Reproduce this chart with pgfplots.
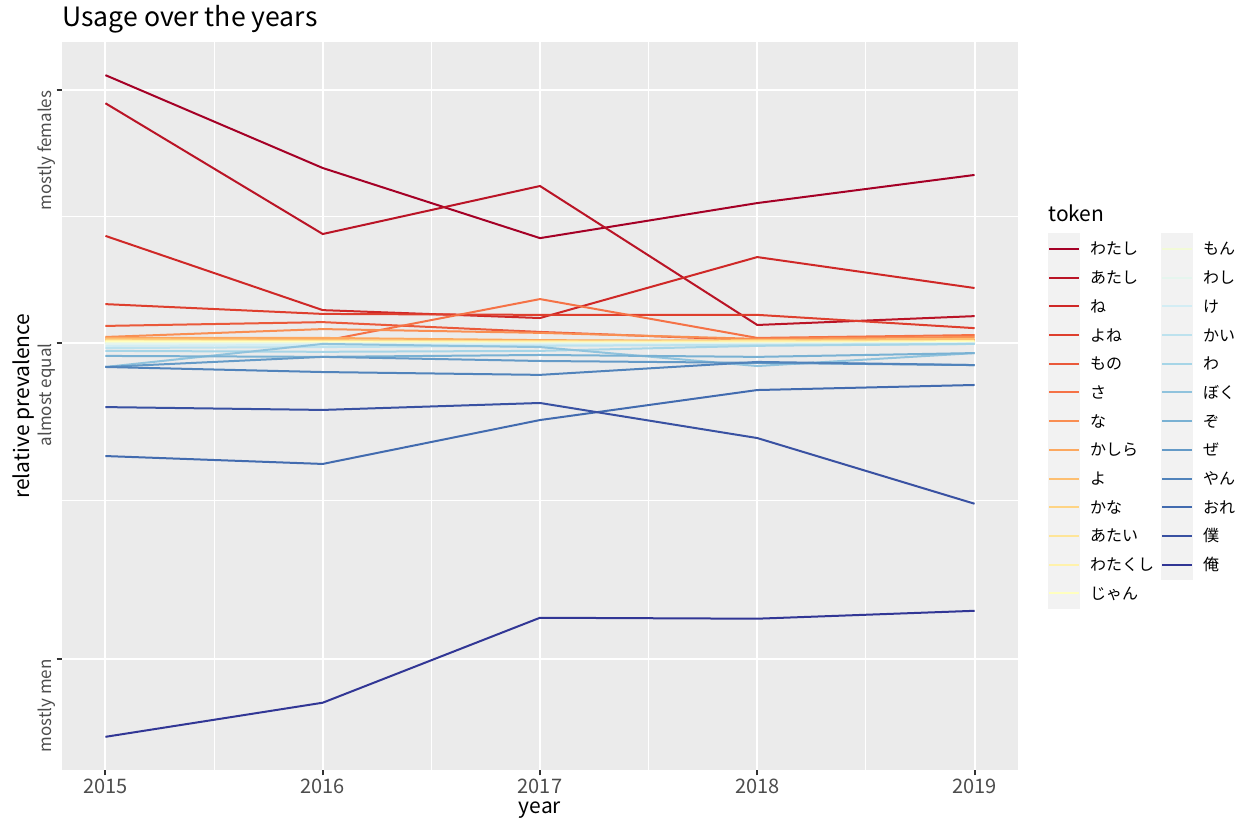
\documentclass[border=0pt]{standalone}
\usepackage{fontspec}
\setmainfont{Noto Sans CJK JP}
\usepackage{pgfplots}
\usepackage{pgfplotstable}
\pgfplotsset{compat=1.18}

% RdYlBu spread over 25 tokens
\definecolor{c1}{RGB}{165,0,38}
\definecolor{c2}{RGB}{186,20,38}
\definecolor{c3}{RGB}{207,40,39}
\definecolor{c4}{RGB}{222,63,46}
\definecolor{c5}{RGB}{234,89,58}
\definecolor{c6}{RGB}{245,114,70}
\definecolor{c7}{RGB}{249,142,82}
\definecolor{c8}{RGB}{252,168,95}
\definecolor{c9}{RGB}{253,191,113}
\definecolor{c10}{RGB}{254,212,132}
\definecolor{c11}{RGB}{254,229,152}
\definecolor{c12}{RGB}{255,242,171}
\definecolor{c13}{RGB}{255,255,191}
\definecolor{c14}{RGB}{242,250,215}
\definecolor{c15}{RGB}{229,245,238}
\definecolor{c16}{RGB}{211,237,244}
\definecolor{c17}{RGB}{189,226,238}
\definecolor{c18}{RGB}{166,213,231}
\definecolor{c19}{RGB}{144,195,221}
\definecolor{c20}{RGB}{121,177,211}
\definecolor{c21}{RGB}{100,154,199}
\definecolor{c22}{RGB}{81,131,187}
\definecolor{c23}{RGB}{66,107,175}
\definecolor{c24}{RGB}{57,81,162}
\definecolor{c25}{RGB}{49,54,149}
\definecolor{panel}{HTML}{EBEBEB}
\definecolor{keybg}{HTML}{F2F2F2}
\definecolor{tickc}{HTML}{333333}
\definecolor{labc}{HTML}{4D4D4D}

\pgfplotstableread{
year watashi atashi ne yone mono sa na kashira yo kana atai watakushi jan mon washi ke kai wa boku zo ze yan ore bokuK oreK
2015 0.848 0.759 0.339 0.123 0.054 0.009 0.019 0.016 0.013 0.009 0.006 0.006 0.003 0.000 -0.003 -0.009 -0.016 -0.025 -0.076 -0.041 -0.076 -0.076 -0.358 -0.203 -1.247
2016 0.554 0.345 0.104 0.092 0.066 0.006 0.044 0.016 0.009 0.006 0.006 0.003 0.003 0.000 -0.003 -0.006 -0.013 -0.028 -0.003 -0.044 -0.044 -0.092 -0.383 -0.212 -1.139
2017 0.332 0.497 0.079 0.089 0.035 0.139 0.032 0.009 0.006 0.006 0.003 0.003 0.000 0.000 -0.003 -0.006 -0.009 -0.025 -0.013 -0.038 -0.057 -0.101 -0.244 -0.190 -0.870
2018 0.443 0.057 0.272 0.089 0.009 0.016 0.013 0.006 0.009 0.003 0.006 0.003 0.000 0.000 -0.003 -0.006 -0.006 -0.009 -0.073 -0.044 -0.063 -0.060 -0.149 -0.301 -0.873
2019 0.532 0.085 0.174 0.047 0.009 0.025 0.019 0.009 0.013 0.006 0.003 0.006 0.003 0.000 0.000 -0.003 -0.003 -0.003 -0.032 -0.032 -0.070 -0.070 -0.133 -0.509 -0.848
}\usage

\newcommand\lb[1]{\makebox[30.5pt][l]{#1}}

\begin{document}
\begin{tikzpicture}
\path[use as bounding box] (-31pt,-26.5pt) rectangle (591pt,385pt);
\begin{axis}[
  at={(0,0)}, anchor=south west,
  scale only axis, width=478pt, height=364pt,
  xmin=2014.8, xmax=2019.2, ymin=-1.352, ymax=0.953,
  xtick={2015,2016,2017,2018,2019},
  minor xtick={2015.5,2016.5,2017.5,2018.5},
  ytick={-1,0,0.8},
  yticklabels={mostly men,almost equal,mostly females},
  minor ytick={-0.5,0.4},
  grid=both,
  major grid style={white,line width=1pt},
  minor grid style={white,line width=0.5pt},
  axis background/.style={fill=panel},
  axis line style={draw=none},
  tick align=outside, tick pos=left,
  major tick length=2.75pt, minor tick length=0pt,
  tick style={tickc,line width=1pt},
  /pgf/number format/1000 sep={},
  /pgf/number format/assume math mode=true,
  tick label style={text=labc},
  xticklabel style={anchor=base,inner sep=0pt,yshift=-8.9pt,
    font=\fontsize{10}{11}\selectfont},
  yticklabel style={xshift=-2.4pt,rotate=90,anchor=base east,inner sep=0pt,
    font=\fontsize{8.5}{10}\selectfont},
  title={Usage over the years},
  title style={at={(axis description cs:0,1)},anchor=base west,yshift=1.5pt,
    inner sep=0pt,font=\fontsize{13.3}{15}\selectfont},
  xlabel={year}, ylabel={relative prevalence},
  xlabel style={at={(axis description cs:0.5,-0.0604)},anchor=base,
    font=\fontsize{10.5}{12}\selectfont},
  ylabel style={at={(axis description cs:-0.0345,0.5)},anchor=base,
    font=\fontsize{10.5}{12}\selectfont},
  every axis plot/.append style={line width=1pt},
  legend image code/.code={
    \fill[keybg,overlay] (0pt,-7.3pt) rectangle (15pt,7.3pt);
    \draw[#1] (1.5pt,0pt) -- (13.5pt,0pt);
    \path (0pt,0pt) -- (15pt,0pt);
  },
  transpose legend, legend columns=13,
  legend cell align=left,
  legend style={at={(axis description cs:1.0314,0.7354)},anchor=north west,
    draw=none,fill=none,inner sep=0pt,outer sep=0pt,
    row sep=0pt,column sep=5pt,
    font=\fontsize{8}{9}\selectfont,
    nodes={inner sep=0pt,text height=10.175pt,text depth=4.175pt}},
]
\addplot[c1] table[x=year,y=watashi] {\usage}; \addlegendentry{\lb{わたし}}
\addplot[c2] table[x=year,y=atashi] {\usage}; \addlegendentry{\lb{あたし}}
\addplot[c3] table[x=year,y=ne] {\usage}; \addlegendentry{\lb{ね}}
\addplot[c4] table[x=year,y=yone] {\usage}; \addlegendentry{\lb{よね}}
\addplot[c5] table[x=year,y=mono] {\usage}; \addlegendentry{\lb{もの}}
\addplot[c6] table[x=year,y=sa] {\usage}; \addlegendentry{\lb{さ}}
\addplot[c7] table[x=year,y=na] {\usage}; \addlegendentry{\lb{な}}
\addplot[c8] table[x=year,y=kashira] {\usage}; \addlegendentry{\lb{かしら}}
\addplot[c9] table[x=year,y=yo] {\usage}; \addlegendentry{\lb{よ}}
\addplot[c10] table[x=year,y=kana] {\usage}; \addlegendentry{\lb{かな}}
\addplot[c11] table[x=year,y=atai] {\usage}; \addlegendentry{\lb{あたい}}
\addplot[c12] table[x=year,y=watakushi] {\usage}; \addlegendentry{\lb{わたくし}}
\addplot[c13] table[x=year,y=jan] {\usage}; \addlegendentry{\lb{じゃん}}
\addplot[c14] table[x=year,y=mon] {\usage}; \addlegendentry{\lb{もん}}
\addplot[c15] table[x=year,y=washi] {\usage}; \addlegendentry{\lb{わし}}
\addplot[c16] table[x=year,y=ke] {\usage}; \addlegendentry{\lb{け}}
\addplot[c17] table[x=year,y=kai] {\usage}; \addlegendentry{\lb{かい}}
\addplot[c18] table[x=year,y=wa] {\usage}; \addlegendentry{\lb{わ}}
\addplot[c19] table[x=year,y=boku] {\usage}; \addlegendentry{\lb{ぼく}}
\addplot[c20] table[x=year,y=zo] {\usage}; \addlegendentry{\lb{ぞ}}
\addplot[c21] table[x=year,y=ze] {\usage}; \addlegendentry{\lb{ぜ}}
\addplot[c22] table[x=year,y=yan] {\usage}; \addlegendentry{\lb{やん}}
\addplot[c23] table[x=year,y=ore] {\usage}; \addlegendentry{\lb{おれ}}
\addplot[c24] table[x=year,y=bokuK] {\usage}; \addlegendentry{\lb{僕}}
\addplot[c25] table[x=year,y=oreK] {\usage}; \addlegendentry{\lb{俺}}
\addlegendimage{empty legend} \addlegendentry{}
\end{axis}
\node[anchor=base west,inner sep=0pt,font=\fontsize{10.5}{12}\selectfont] at (493pt,274pt) {token};
\end{tikzpicture}
\end{document}
